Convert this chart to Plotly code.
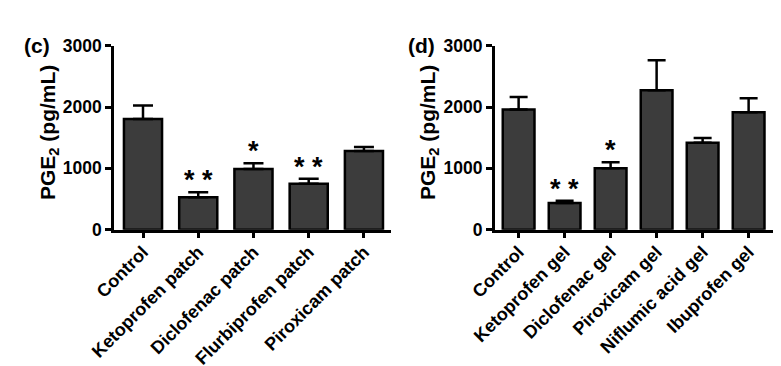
import plotly.graph_objects as go

# ---- data ----
cats_c = ["Control", "Ketoprofen patch", "Diclofenac patch", "Flurbiprofen patch", "Piroxicam patch"]
mean_c = [1806, 528, 990, 750, 1284]
err_c = [217, 82, 93, 82, 65]
sig_c = ["", "**", "*", "**", ""]

cats_d = ["Control", "Ketoprofen gel", "Diclofenac gel", "Piroxicam gel", "Niflumic acid gel", "Ibuprofen gel"]
mean_d = [1958, 436, 1001, 2274, 1419, 1915]
err_d = [207, 37, 98, 489, 77, 229]
sig_d = ["", "**", "*", "", "", ""]

y_ticks = [0, 1000, 2000, 3000]
y_title = "PGE<sub>2</sub> (pg/mL)"
panel_labels = ["(c)", "(d)"]

W, H = 781, 366
FONT = "Arial, Liberation Sans, sans-serif"
BAR_FILL = "#3c3c3c"

fig = go.Figure()


def add_panel(cats, means, errs, xa, ya, capw):
    fig.add_trace(go.Bar(
        x=cats, y=means, width=0.69,
        marker=dict(color=BAR_FILL, line=dict(color="black", width=2.5)),
        error_y=dict(type="data", symmetric=False, array=errs,
                     arrayminus=[0] * len(errs), color="black",
                     thickness=2.5, width=capw),
        xaxis=xa, yaxis=ya, showlegend=False, hoverinfo="skip",
    ))


add_panel(cats_c, mean_c, err_c, "x", "y", 10)
add_panel(cats_d, mean_d, err_d, "x2", "y2", 9)

ydom = [1 - 221.7 / H, 1 - 37.7 / H]
xdom_c = [106 / W, 383 / W]
xdom_d = [486.7 / W, 765 / W]

axis_common = dict(showline=True, linecolor="black", linewidth=2.5,
                   ticks="outside", ticklen=6, tickwidth=2.5, tickcolor="black",
                   showgrid=False, zeroline=False, automargin=False)

xfont = dict(size=18, family=FONT, weight="bold", color="black")
yfont = dict(size=17.5, family=FONT, weight="bold", color="black")

fig.update_layout(
    width=W, height=H,
    margin=dict(l=0, r=0, t=0, b=0),
    paper_bgcolor="white", plot_bgcolor="white",
    font=dict(family=FONT, color="black"),
    xaxis=dict(domain=xdom_c, anchor="y", type="category", range=[-0.525, 4.49],
               tickangle=-45, tickfont=xfont, ticklabelstandoff=-4, **axis_common),
    yaxis=dict(domain=ydom, anchor="x", range=[0, 3000], tickvals=y_ticks,
               tickfont=yfont, **axis_common),
    xaxis2=dict(domain=xdom_d, anchor="y2", type="category", range=[-0.52, 5.53],
                tickangle=-45, tickfont=xfont, ticklabelstandoff=-4, **axis_common),
    yaxis2=dict(domain=ydom, anchor="x2", range=[0, 3000], tickvals=y_ticks,
                tickfont=yfont, **axis_common),
)

annotations = []
# significance stars
for cats, means, errs, sigs, xr, yr in [(cats_c, mean_c, err_c, sig_c, "x", "y"),
                                         (cats_d, mean_d, err_d, sig_d, "x2", "y2")]:
    for c, m, e, s in zip(cats, means, errs, sigs):
        if s:
            annotations.append(dict(
                x=c, y=m + e, xref=xr, yref=yr, text=" ".join(s),
                showarrow=False, yanchor="bottom", yshift=-5,
                font=dict(size=27, family=FONT, color="black", weight="bold"),
            ))

# y titles
for xpx in [41, 421]:
    annotations.append(dict(
        x=xpx / W, y=1 - 125 / H, xref="paper", yref="paper", text=y_title,
        textangle=-90, showarrow=False, xanchor="center", yanchor="middle",
        font=dict(size=21, family=FONT, color="black", weight="bold"),
    ))

# panel labels
for lbl, xpx in zip(panel_labels, [29, 414]):
    annotations.append(dict(
        x=xpx / W, y=1 - 37 / H, xref="paper", yref="paper", text=lbl,
        showarrow=False, xanchor="center", yanchor="middle",
        font=dict(size=21, family=FONT, color="black", weight="bold"),
    ))

fig.update_layout(annotations=annotations)

fig.write_html("out.html")
